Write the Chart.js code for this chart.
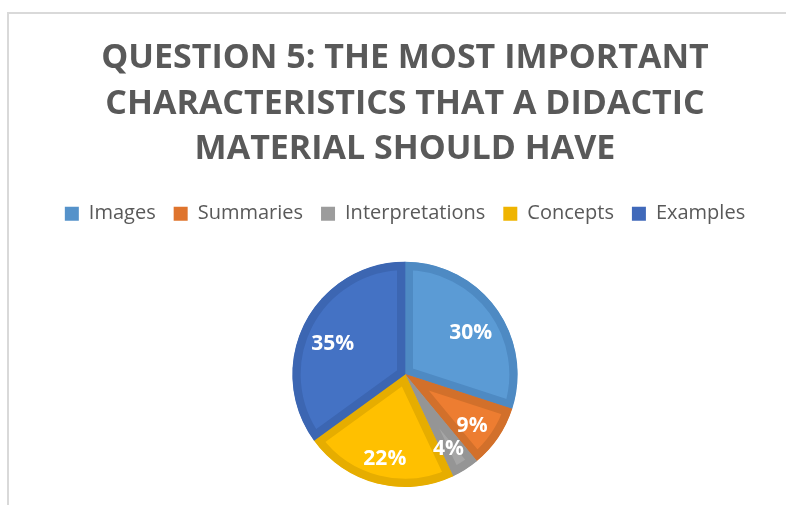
<!DOCTYPE html>
<html>
<head>
<meta charset="utf-8">
<script src="https://cdn.jsdelivr.net/npm/chart.js@4.4.1/dist/chart.umd.min.js"></script>
<style>
  html, body { margin: 0; padding: 0; background: #ffffff; }
  #wrap { position: relative; width: 786px; height: 505px; overflow: hidden; }
  #frame {
    position: absolute; left: 7px; top: 12px; width: 900px; height: 600px;
    border-left: 2px solid #d9d9d9; border-top: 2px solid #d9d9d9;
  }
  #c { position: absolute; left: 0; top: 0; }
</style>
</head>
<body>
<div id="wrap">
  <div id="frame"></div>
  <canvas id="c" width="786" height="505"></canvas>
</div>
<script>
// Survey answers, share of respondents (%)
const categories = ['Images', 'Summaries', 'Interpretations', 'Concepts', 'Examples'];
const shares = [30, 9, 4, 22, 35];
const titleLines = ['QUESTION 5: THE MOST IMPORTANT', 'CHARACTERISTICS THAT A DIDACTIC', 'MATERIAL SHOULD HAVE'];

const fillColors = ['#5B9BD5', '#ED7D31', '#A5A5A5', '#FFC000', '#4472C4'];
const edgeColors = ['#4E8AC3', '#D2702B', '#959595', '#E6AD00', '#3C66B2'];
const legendColors = ['#5592CA', '#DF742D', '#9C9C9C', '#EFB400', '#4069BA'];

// White percentage labels placed inside each slice
const sliceLabels = {
  id: 'sliceLabels',
  afterDatasetsDraw(chart) {
    const ctx = chart.ctx;
    const meta = chart.getDatasetMeta(0);
    const values = chart.data.datasets[0].data;
    ctx.save();
    ctx.fillStyle = '#ffffff';
    ctx.font = 'bold 21px "Open Sans"';
    ctx.textAlign = 'center';
    ctx.textBaseline = 'alphabetic';
    const digitHeight = ctx.measureText('0').actualBoundingBoxAscent;
    const drop = 5;
    meta.data.forEach((arc, i) => {
      const p = arc.getProps(['x', 'y', 'startAngle', 'endAngle', 'outerRadius'], true);
      const mid = (p.startAngle + p.endAngle) / 2;
      const r = p.outerRadius * 0.72;
      const cx = p.x + Math.cos(mid) * r;
      const cy = p.y + Math.sin(mid) * r + drop;
      ctx.fillText(values[i] + '%', cx, cy + digitHeight / 2);
    });
    ctx.restore();
  }
};

new Chart(document.getElementById('c'), {
  type: 'pie',
  data: {
    labels: categories,
    datasets: [{
      data: shares,
      backgroundColor: fillColors,
      borderColor: edgeColors,
      borderWidth: 8,
      borderAlign: 'inner'
    }]
  },
  plugins: [sliceLabels],
  options: {
    responsive: false,
    animation: false,
    events: [],
    layout: { padding: { top: 35, bottom: 18, left: 24, right: 0 } },
    plugins: {
      title: {
        display: true,
        text: titleLines,
        color: '#595959',
        font: { family: '"Open Sans"', size: 34, weight: 'bold', lineHeight: 1.35 },
        padding: { top: 0, bottom: 13 }
      },
      // empty box below the legend that keeps the pie clear of it
      subtitle: {
        display: true,
        text: '',
        position: 'top',
        weight: 500,
        font: { size: 10, lineHeight: 1 },
        padding: { top: 0, bottom: 18 }
      },
      legend: {
        display: true,
        position: 'top',
        labels: {
          color: '#595959',
          font: { family: '"Open Sans"', size: 20 },
          boxWidth: 14,
          boxHeight: 14,
          padding: 18,
          generateLabels(chart) {
            return categories.map((name, i) => ({
              text: name,
              fillStyle: legendColors[i],
              strokeStyle: legendColors[i],
              lineWidth: 0,
              fontColor: '#595959',
              index: i,
              hidden: false
            }));
          }
        }
      },
      tooltip: { enabled: false }
    }
  }
});
</script>
</body>
</html>
